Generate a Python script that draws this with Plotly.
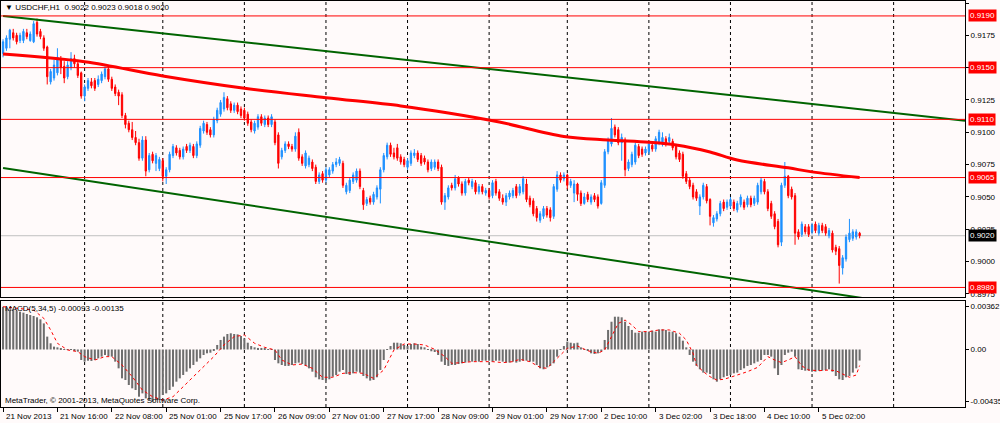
import plotly.graph_objects as go

# USDCHF,H1 from 21 Nov 2013 00:00 to 5 Dec 2013, prices in pips (x 0.0001)
open_pips = [
    9161, 9165, 9172, 9177, 9175, 9171, 9171, 9177, 9171, 9170,
    9185, 9178, 9173, 9166, 9139, 9142, 9146, 9156, 9151, 9143,
    9150, 9157, 9153, 9146, 9128, 9134, 9139, 9140, 9137, 9140,
    9143, 9149, 9141, 9135, 9131, 9129, 9113, 9107, 9102, 9096,
    9092, 9080, 9094, 9071, 9083, 9076, 9072, 9078, 9066, 9071,
    9082, 9088, 9086, 9081, 9089, 9086, 9089, 9082, 9090, 9101,
    9106, 9102, 9098, 9109, 9114, 9118, 9126, 9122, 9117, 9121,
    9118, 9117, 9114, 9108, 9101, 9104, 9112, 9106, 9111, 9106,
    9108, 9098, 9081, 9086, 9091, 9089, 9087, 9100, 9081, 9074,
    9075, 9077, 9073, 9062, 9068, 9063, 9067, 9070, 9075, 9076,
    9076, 9054, 9055, 9062, 9063, 9070, 9055, 9045, 9049, 9046,
    9050, 9056, 9071, 9081, 9090, 9084, 9088, 9081, 9079, 9073,
    9076, 9082, 9084, 9082, 9080, 9077, 9072, 9073, 9077, 9073,
    9046, 9050, 9059, 9057, 9065, 9060, 9053, 9063, 9058, 9061,
    9054, 9058, 9053, 9055, 9051, 9062, 9054, 9049, 9046, 9050,
    9051, 9058, 9053, 9054, 9060, 9049, 9047, 9041, 9032, 9035,
    9041, 9040, 9035, 9056, 9067, 9064, 9067, 9059, 9053, 9060,
    9053, 9045, 9052, 9046, 9051, 9050, 9045, 9059, 9085, 9091,
    9104, 9102, 9092, 9094, 9072, 9075, 9077, 9089, 9087, 9084,
    9085, 9090, 9087, 9092, 9091, 9095, 9093, 9093, 9089, 9084,
    9083, 9068, 9063, 9059, 9054, 9043, 9050, 9058, 9048, 9030,
    9033, 9037, 9046, 9042, 9043, 9046, 9040, 9044, 9046, 9044,
    9049, 9045, 9046, 9054, 9062, 9054, 9045, 9037, 9031, 9015,
    9059, 9066, 9056, 9051, 9023, 9021, 9027, 9027, 9023, 9029,
    9022, 9028, 9027, 9020, 9022, 9011, 9010, 8995, 9002, 9017,
    9018, 9019, 9022,
]
high_pips = [
    9172, 9175, 9180, 9180, 9177, 9177, 9180, 9180, 9178, 9186,
    9188, 9180, 9175, 9167, 9149, 9156, 9165, 9159, 9155, 9155,
    9162, 9160, 9155, 9147, 9137, 9142, 9142, 9142, 9144, 9147,
    9151, 9151, 9143, 9137, 9133, 9131, 9115, 9109, 9108, 9101,
    9095, 9097, 9097, 9084, 9085, 9084, 9081, 9080, 9073, 9085,
    9091, 9090, 9088, 9089, 9091, 9092, 9091, 9093, 9105, 9109,
    9108, 9104, 9112, 9119, 9125, 9131, 9128, 9124, 9123, 9123,
    9120, 9119, 9116, 9110, 9109, 9114, 9114, 9113, 9113, 9114,
    9110, 9100, 9088, 9093, 9093, 9091, 9100, 9103, 9083, 9086,
    9082, 9079, 9075, 9069, 9070, 9073, 9073, 9077, 9080, 9081,
    9078, 9061, 9065, 9069, 9072, 9072, 9057, 9050, 9051, 9054,
    9059, 9073, 9084, 9092, 9092, 9088, 9091, 9083, 9081, 9080,
    9086, 9087, 9086, 9084, 9082, 9079, 9079, 9079, 9079, 9075,
    9053, 9059, 9061, 9067, 9066, 9062, 9064, 9065, 9064, 9063,
    9060, 9060, 9057, 9057, 9063, 9064, 9056, 9052, 9053, 9055,
    9057, 9060, 9060, 9066, 9064, 9051, 9049, 9043, 9039, 9043,
    9043, 9042, 9060, 9070, 9069, 9069, 9068, 9064, 9063, 9061,
    9055, 9053, 9054, 9052, 9053, 9052, 9063, 9087, 9096, 9111,
    9106, 9104, 9099, 9096, 9079, 9085, 9092, 9091, 9089, 9089,
    9093, 9092, 9097, 9102, 9100, 9097, 9099, 9095, 9091, 9086,
    9085, 9070, 9065, 9061, 9056, 9052, 9061, 9060, 9049, 9036,
    9039, 9047, 9048, 9048, 9050, 9048, 9047, 9052, 9048, 9051,
    9051, 9051, 9061, 9065, 9064, 9056, 9047, 9039, 9033, 9061,
    9077, 9067, 9058, 9053, 9025, 9031, 9029, 9029, 9030, 9031,
    9030, 9030, 9029, 9026, 9024, 9013, 9012, 9005, 9021, 9033,
    9025, 9025, 9023,
]
low_pips = [
    9158, 9163, 9165, 9171, 9168, 9169, 9169, 9172, 9170, 9169,
    9174, 9172, 9163, 9137, 9137, 9140, 9144, 9145, 9138, 9141,
    9148, 9150, 9142, 9126, 9124, 9132, 9134, 9132, 9135, 9138,
    9141, 9139, 9132, 9128, 9121, 9111, 9103, 9100, 9094, 9090,
    9078, 9078, 9066, 9069, 9076, 9070, 9070, 9062, 9060, 9069,
    9080, 9082, 9079, 9079, 9084, 9084, 9080, 9080, 9088, 9099,
    9098, 9096, 9096, 9107, 9112, 9116, 9117, 9115, 9115, 9114,
    9111, 9109, 9105, 9100, 9099, 9102, 9105, 9104, 9104, 9104,
    9090, 9072, 9079, 9084, 9087, 9085, 9085, 9078, 9074, 9072,
    9073, 9070, 9060, 9060, 9061, 9061, 9065, 9068, 9073, 9074,
    9057, 9052, 9053, 9060, 9061, 9056, 9040, 9043, 9044, 9044,
    9048, 9045, 9069, 9079, 9081, 9079, 9078, 9075, 9073, 9071,
    9074, 9080, 9077, 9074, 9075, 9069, 9070, 9071, 9070, 9044,
    9040, 9048, 9055, 9055, 9058, 9051, 9051, 9059, 9056, 9052,
    9052, 9052, 9051, 9048, 9049, 9051, 9047, 9044, 9043, 9048,
    9049, 9049, 9051, 9052, 9046, 9042, 9035, 9031, 9030, 9033,
    9034, 9031, 9033, 9054, 9061, 9062, 9056, 9057, 9046, 9047,
    9043, 9044, 9046, 9044, 9046, 9041, 9044, 9057, 9083, 9089,
    9096, 9090, 9078, 9066, 9070, 9073, 9075, 9080, 9081, 9082,
    9083, 9085, 9085, 9090, 9089, 9089, 9091, 9086, 9079, 9077,
    9064, 9060, 9056, 9048, 9047, 9036, 9048, 9045, 9028, 9027,
    9031, 9035, 9039, 9040, 9041, 9039, 9038, 9042, 9040, 9042,
    9042, 9043, 9044, 9052, 9052, 9039, 9033, 9025, 9011, 9012,
    9057, 9049, 9048, 9013, 9017, 9019, 9021, 9019, 9021, 9022,
    9020, 9022, 9020, 9018, 9007, 9005, 8983, 8990, 9000, 9015,
    9016, 9017, 9018,
]
close_pips = [
    9170, 9173, 9179, 9173, 9170, 9175, 9178, 9174, 9176, 9184,
    9176, 9174, 9165, 9143, 9147, 9152, 9158, 9150, 9142, 9152,
    9157, 9153, 9144, 9128, 9135, 9140, 9136, 9134, 9141, 9145,
    9149, 9141, 9134, 9130, 9128, 9113, 9106, 9102, 9096, 9092,
    9080, 9094, 9070, 9082, 9078, 9082, 9079, 9066, 9071, 9083,
    9089, 9084, 9081, 9087, 9086, 9090, 9082, 9091, 9103, 9107,
    9100, 9098, 9110, 9117, 9123, 9127, 9119, 9117, 9121, 9116,
    9113, 9111, 9107, 9102, 9107, 9112, 9107, 9111, 9106, 9112,
    9092, 9076, 9086, 9091, 9089, 9087, 9097, 9080, 9076, 9084,
    9080, 9072, 9062, 9067, 9063, 9071, 9071, 9075, 9077, 9079,
    9059, 9059, 9063, 9067, 9070, 9058, 9044, 9048, 9046, 9052,
    9057, 9071, 9082, 9090, 9083, 9081, 9080, 9077, 9075, 9078,
    9084, 9084, 9079, 9076, 9077, 9071, 9077, 9077, 9072, 9046,
    9051, 9057, 9057, 9064, 9060, 9053, 9062, 9061, 9062, 9054,
    9058, 9054, 9055, 9050, 9061, 9053, 9049, 9046, 9051, 9053,
    9055, 9051, 9058, 9064, 9048, 9044, 9037, 9034, 9037, 9041,
    9036, 9034, 9058, 9067, 9063, 9067, 9059, 9062, 9060, 9052,
    9045, 9050, 9048, 9050, 9048, 9043, 9061, 9085, 9094, 9103,
    9098, 9092, 9096, 9071, 9077, 9083, 9090, 9082, 9083, 9087,
    9091, 9087, 9095, 9100, 9096, 9091, 9096, 9088, 9081, 9079,
    9066, 9062, 9058, 9050, 9049, 9050, 9059, 9047, 9035, 9034,
    9037, 9045, 9041, 9046, 9048, 9041, 9045, 9050, 9042, 9049,
    9044, 9049, 9059, 9063, 9054, 9041, 9035, 9027, 9013, 9059,
    9066, 9051, 9050, 9022, 9019, 9029, 9023, 9021, 9028, 9024,
    9028, 9024, 9022, 9024, 9009, 9008, 8997, 9003, 9019, 9022,
    9023, 9023, 9020,
]

# MACD(5,34,5) histogram, in units of 0.00001
macd_hist = [
    358, 352, 331, 331, 326, 317, 309, 298, 289, 281,
    270, 253, 219, 108, 52, 24, 18, 10, 1, -4,
    -4, -13, -18, -88, -102, -94, -96, -88, -74, -60,
    -46, -55, -60, -102, -158, -242, -256, -298, -326, -340,
    -396, -368, -410, -424, -438, -424, -410, -382, -368, -340,
    -312, -270, -242, -214, -186, -158, -130, -102, -74, -46,
    -32, -27, -10, 38, 80, 108, 130, 136, 130, 127,
    113, 94, 57, 29, 18, 13, 13, 7, 1, -4,
    -88, -116, -130, -138, -138, -130, -116, -110, -122, -138,
    -158, -186, -233, -250, -256, -261, -250, -228, -214, -186,
    -172, -206, -214, -200, -186, -194, -222, -242, -261, -256,
    -233, -172, -88, 1, 29, 57, 57, 52, 38, 29,
    46, 52, 46, 24, 18, -4, -15, -21, -46, -102,
    -130, -138, -130, -130, -122, -116, -110, -102, -102, -96,
    -102, -94, -94, -94, -102, -94, -94, -102, -110, -110,
    -102, -110, -102, -94, -94, -102, -102, -130, -158, -166,
    -150, -138, -116, -60, 1, 29, 66, 57, 52, 57,
    18, 1, -10, -32, -38, -32, -18, 80, 164, 233,
    275, 275, 270, 233, 197, 164, 141, 141, 150, 150,
    150, 158, 150, 169, 169, 164, 150, 150, 136, 108,
    74, 18, -46, -102, -138, -166, -194, -194, -206, -250,
    -270, -250, -233, -222, -214, -200, -194, -172, -158, -138,
    -130, -116, -102, -88, -46, -46, -60, -158, -214, -130,
    -46, -27, -18, -60, -166, -172, -178, -178, -186, -186,
    -178, -178, -172, -166, -186, -222, -250, -256, -233, -222,
    -194, -158, -93,
]
# signal line read at these bars, in units of 0.00001
signal_bars = [
    0, 5, 9, 12, 14, 16, 19, 22, 24, 27, 30, 32, 35, 38, 41, 44, 47, 50,
    53, 56, 59, 62, 65, 68, 71, 74, 77, 80, 82, 85, 88, 91, 94, 97, 100,
    103, 106, 109, 112, 115, 118, 121, 124, 127, 130, 132, 135, 138, 141,
    144, 147, 150, 152, 155, 158, 160, 162, 164, 166, 169, 172, 175, 177,
    179, 181, 183, 185, 187, 190, 193, 196, 199, 201, 203, 204, 206, 208,
    210, 212, 214, 216, 219, 222, 224, 225, 227, 229, 231, 233, 235, 237,
    240, 243, 245, 247, 249, 251, 252,
]
signal_vals = [
    359, 345, 331, 261, 164, 52, -4, -18, -60, -88, -60, -60, -130, -228,
    -340, -396, -424, -396, -312, -228, -144, -60, 38, 108, 122, 52, 18,
    -4, -88, -130, -122, -158, -233, -233, -200, -194, -200, -242, -172,
    -4, 46, 46, 38, 1, -60, -116, -110, -102, -102, -102, -110, -102, -82,
    -102, -150, -158, -102, -46, 10, 29, -10, -32, -4, 108, 219, 247, 205,
    150, 150, 164, 164, 136, 80, -32, -130, -186, -228, -256, -250, -233,
    -214, -186, -150, -88, -60, -88, -110, -88, -60, -138, -172, -178,
    -172, -178, -206, -233, -214, -135,
]

# thick red moving average, read at these bars
ma_bars = [0, 24, 47, 71, 95, 117, 131, 146, 165, 178, 190, 198, 208, 216, 231, 238, 252]
ma_pips = [9160.6, 9154.6, 9143.6, 9134.1, 9126.8, 9120.4, 9115.0, 9108.0, 9096.8,
           9094.1, 9092.3, 9090.2, 9084.8, 9078.6, 9072.5, 9069.4, 9065.0]

# green trend lines (end points)
channel_bars = [0, 283]
upper_channel = [9189.9, 9109.0]
lower_channel = [9072.4, 8959.8]

levels = [9190, 9150, 9110, 9065, 8980]
day_starts = [24, 47, 71, 95, 119, 143, 166, 190, 214, 238, 262]
label_bars = [0, 16, 32, 48, 64, 80, 96, 112, 128, 144, 160, 176, 192, 208, 224, 240]
time_labels = ["21 Nov 2013", "21 Nov 16:00", "22 Nov 08:00", "25 Nov 01:00",
               "25 Nov 17:00", "26 Nov 09:00", "27 Nov 01:00", "27 Nov 17:00",
               "28 Nov 09:00", "29 Nov 01:00", "29 Nov 17:00", "2 Dec 10:00",
               "3 Dec 02:00", "3 Dec 18:00", "4 Dec 10:00", "5 Dec 02:00"]
price_ticks = [0.9200, 0.9175, 0.9150, 0.9125, 0.9100, 0.9075, 0.9050, 0.9025, 0.9000, 0.8975]
macd_ticks = [0.00362, 0.0, -0.00435]
macd_tick_text = ["0.00362", "0.00", "-0.00435"]

bars = list(range(len(close_pips)))
BG = "#FFFAFA"
FONT = "Liberation Sans, Arial, sans-serif"

fig = go.Figure()

fig.add_trace(go.Candlestick(
    x=bars,
    open=[v / 1e4 for v in open_pips], high=[v / 1e4 for v in high_pips],
    low=[v / 1e4 for v in low_pips], close=[v / 1e4 for v in close_pips],
    increasing=dict(line=dict(color="#1E90FF", width=1), fillcolor="#1E90FF"),
    decreasing=dict(line=dict(color="#FF0000", width=1), fillcolor="#FF0000"),
    whiskerwidth=0, xaxis="x", yaxis="y", showlegend=False))

fig.add_trace(go.Scatter(x=ma_bars, y=[v / 1e4 for v in ma_pips], mode="lines",
                         line=dict(color="#FF0000", width=3, shape="spline"),
                         xaxis="x", yaxis="y", showlegend=False))

for chan in (upper_channel, lower_channel):
    fig.add_trace(go.Scatter(x=channel_bars, y=[v / 1e4 for v in chan], mode="lines",
                             line=dict(color="#006400", width=2),
                             xaxis="x", yaxis="y", showlegend=False))

fig.add_trace(go.Bar(x=bars, y=[v / 1e5 for v in macd_hist], marker=dict(color="#6E6E6E", line=dict(width=0)),
                     xaxis="x2", yaxis="y2", showlegend=False))
fig.add_trace(go.Scatter(x=signal_bars, y=[v / 1e5 for v in signal_vals], mode="lines",
                         line=dict(color="#FF0000", width=1, dash="dot"),
                         xaxis="x2", yaxis="y2", showlegend=False))

shapes = []
for d in day_starts:
    shapes.append(dict(type="line", xref="x", yref="paper", x0=d, x1=d, y0=0, y1=1,
                       line=dict(color="#000000", width=1, dash="dot"), layer="below"))
shapes.append(dict(type="line", xref="paper", yref="y", x0=0, x1=1,
                   y0=close_pips[-1] / 1e4, y1=close_pips[-1] / 1e4,
                   line=dict(color="#C0C0C0", width=1), layer="below"))
for lv in levels:
    shapes.append(dict(type="line", xref="paper", yref="y", x0=0, x1=1, y0=lv / 1e4, y1=lv / 1e4,
                       line=dict(color="#FF0000", width=1), layer="above"))

annotations = []
annotations.append(dict(
    xref="paper", yref="paper", x=0.002, y=0.985, xanchor="left", yanchor="middle", showarrow=False,
    text="▼ USDCHF,H1  %.4f %.4f %.4f %.4f" % (open_pips[-1] / 1e4, high_pips[-1] / 1e4,
                                               low_pips[-1] / 1e4, close_pips[-1] / 1e4)))
annotations.append(dict(
    xref="paper", yref="paper", x=0.002, y=0.2438, xanchor="left", yanchor="middle", showarrow=False,
    text="MACD(5,34,5) %.5f %.5f" % (macd_hist[-1] / 1e5, signal_vals[-1] / 1e5)))
annotations.append(dict(
    xref="paper", yref="paper", x=0.002, y=0.0148, xanchor="left", yanchor="middle", showarrow=False,
    text="MetaTrader, © 2001-2013, MetaQuotes Software Corp."))
for b, lab in zip(label_bars, time_labels):
    annotations.append(dict(xref="x2", yref="paper", x=b + 0.3, y=-0.0222, xanchor="left",
                            yanchor="middle", showarrow=False, text=lab))
for lv in levels:
    annotations.append(dict(xref="paper", yref="y", x=1.003, y=lv / 1e4, xanchor="left", yanchor="middle",
                            showarrow=False, text="%.4f" % (lv / 1e4), bgcolor="#FF0000",
                            font=dict(color="#FFFFFF", size=8, family=FONT), borderpad=1))
annotations.append(dict(xref="paper", yref="y", x=1.003, y=close_pips[-1] / 1e4, xanchor="left",
                        yanchor="middle", showarrow=False, text="%.4f" % (close_pips[-1] / 1e4),
                        bgcolor="#000000", font=dict(color="#FFFFFF", size=8, family=FONT), borderpad=1))

axis_common = dict(showgrid=False, zeroline=False, showline=True, mirror=True,
                   linecolor="#000000", linewidth=1, fixedrange=True)

fig.update_layout(
    width=1000, height=423,
    margin=dict(l=1, r=35, t=1, b=16),
    paper_bgcolor=BG, plot_bgcolor="rgba(0,0,0,0)",
    font=dict(family=FONT, size=8, color="#000000"),
    showlegend=False, boxgap=0.45, bargap=0.4,
    xaxis=dict(domain=[0, 1], anchor="y", range=[-0.6, 283], showticklabels=False, ticks="",
               rangeslider=dict(visible=False), **axis_common),
    yaxis=dict(domain=[0.2709, 1], anchor="x", side="right", range=[0.89726, 0.920155],
               tickvals=price_ticks, tickformat=".4f", ticks="outside", ticklen=3,
               tickcolor="#000000", automargin=False, **axis_common),
    xaxis2=dict(domain=[0, 1], anchor="y2", range=[-0.6, 283], tickvals=label_bars,
                showticklabels=False, ticks="outside", ticklen=4, tickcolor="#000000", **axis_common),
    yaxis2=dict(domain=[0, 0.2611], anchor="x2", side="right", range=[-0.004824, 0.004069],
                tickvals=macd_ticks, ticktext=macd_tick_text, ticks="outside", ticklen=3,
                tickcolor="#000000", automargin=False, **axis_common),
    shapes=shapes, annotations=annotations,
)

# the page should start at the window's corner, like the MT4 screenshot
fig.write_html("out.html", config={"displayModeBar": False},
               post_script="document.body.style.margin='0';document.body.style.padding='0';"
                           "document.body.style.background='%s';" % BG)
